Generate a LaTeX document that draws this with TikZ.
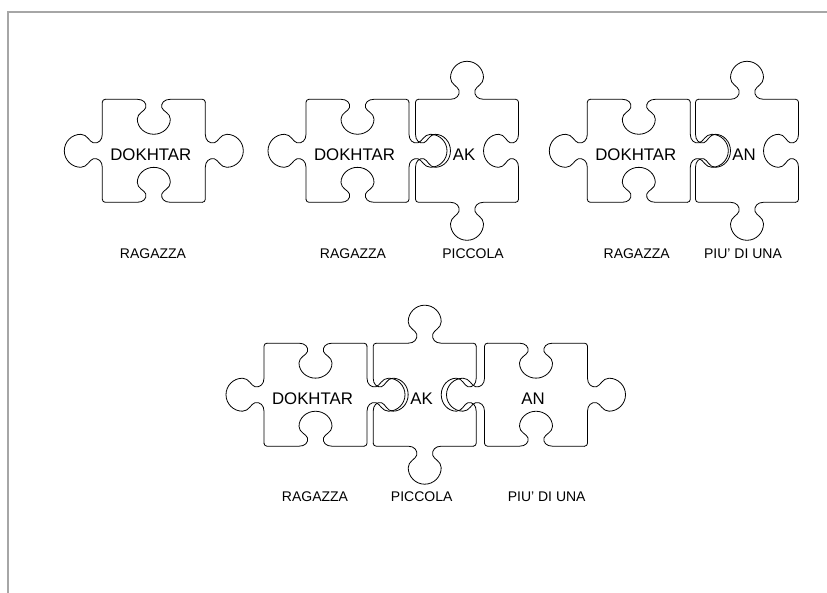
\documentclass[tikz,border=0pt]{standalone}
\usepackage{fontspec}
\setmainfont{Liberation Sans}
\tikzset{
  pzline/.style={draw=black, line width=0.8pt, line join=round, line cap=round},
  pztext/.style={font=\fontsize{16.8}{20}\selectfont, inner sep=0pt, anchor=base},
  lbl/.style={font=\fontsize{14}{17}\selectfont, inner sep=0pt, anchor=base},
  framegray/.style={draw=black!35, line width=2pt, line join=miter}
}
% one side of a piece (top side in local frame); #1 > 0 tab, < 0 hole, 0 flat
\newcommand{\pzside}[1]{%
  \draw[pzline] (-48.5,-51.5) -- (-16.5,-51.5)
    .. controls (-10.5,-51.5) and (-7,{-51.5-4*(#1)}) .. (-8,{-51.5-9*(#1)})
    .. controls (-9,{-51.5-13*(#1)}) and (-16.5,{-51.5-15*(#1)}) .. (-16.5,{-51.5-21.5*(#1)})
    .. controls (-16.5,{-51.5-30.6*(#1)}) and (-9.1,{-51.5-38*(#1)}) .. (0,{-51.5-38*(#1)})
    .. controls (9.1,{-51.5-38*(#1)}) and (16.5,{-51.5-30.6*(#1)}) .. (16.5,{-51.5-21.5*(#1)})
    .. controls (16.5,{-51.5-15*(#1)}) and (9,{-51.5-13*(#1)}) .. (8,{-51.5-9*(#1)})
    .. controls (7,{-51.5-4*(#1)}) and (10.5,-51.5) .. (16.5,-51.5)
    -- (48.5,-51.5) .. controls (50.2,-51.5) and (51.5,-50.2) .. (51.5,-48.5);
}
\newcommand{\pztab}{1}
\newcommand{\pzhole}{-0.92}
% #1 name, #2 cx, #3 cy, #4 top, #5 right, #6 bottom, #7 left, #8 text
\newcommand{\pzpiece}[8]{%
  \begin{scope}[shift={(#2,#3)}]
    \pzside{#4}
    \begin{scope}[rotate=-90]\pzside{#5}\end{scope}
    \begin{scope}[rotate=180]\pzside{#6}\end{scope}
    \begin{scope}[rotate=90]\pzside{#7}\end{scope}
    \node[pztext] (#1) at (-3,10) {#8};
  \end{scope}}
\begin{document}
\begin{tikzpicture}[x=1pt,y=-1pt]
  \useasboundingbox (0,0) rectangle (827,593);
  \fill[white] (0,0) rectangle (827,593);
  \coordinate (fbl) at (8,593);
  \coordinate (ftl) at (8,12);
  \coordinate (ftr) at (827,12);
  \draw[framegray] (fbl) -- (ftl) -- (ftr);

  % top row
  \pzpiece{d1}{153.8}{150.8}{\pzhole}{\pztab}{\pzhole}{\pztab}{DOKHTAR}
  \pzpiece{d2}{357.5}{150.8}{\pzhole}{\pztab}{\pzhole}{\pztab}{DOKHTAR}
  \pzpiece{ak2}{467}{150.8}{\pztab}{\pzhole}{\pztab}{\pzhole}{AK}
  \pzpiece{d3}{638.8}{150.8}{\pzhole}{\pztab}{\pzhole}{\pztab}{DOKHTAR}
  \pzpiece{an3}{747}{150.8}{\pztab}{\pzhole}{\pztab}{\pzhole}{AN}
  % bottom row
  \pzpiece{d4}{315.5}{394.7}{\pzhole}{\pztab}{\pzhole}{\pztab}{DOKHTAR}
  \pzpiece{ak4}{424.7}{394.7}{\pztab}{\pzhole}{\pztab}{\pzhole}{AK}
  \pzpiece{an4}{536}{394.7}{\pzhole}{\pztab}{\pzhole}{\pztab}{AN}

  % labels
  \node[lbl] (l1) at (153,258.4) {RAGAZZA};
  \node[lbl] (l2) at (353,258.4) {RAGAZZA};
  \node[lbl] (l3) at (473,258.4) {PICCOLA};
  \node[lbl] (l4) at (636.7,258.4) {RAGAZZA};
  \node[lbl] (l5) at (743,258.4) {PIU' DI UNA};
  \node[lbl] (l6) at (315,501.7) {RAGAZZA};
  \node[lbl] (l7) at (421.7,501.7) {PICCOLA};
  \node[lbl] (l8) at (546.7,501.7) {PIU' DI UNA};
\end{tikzpicture}
\end{document}
